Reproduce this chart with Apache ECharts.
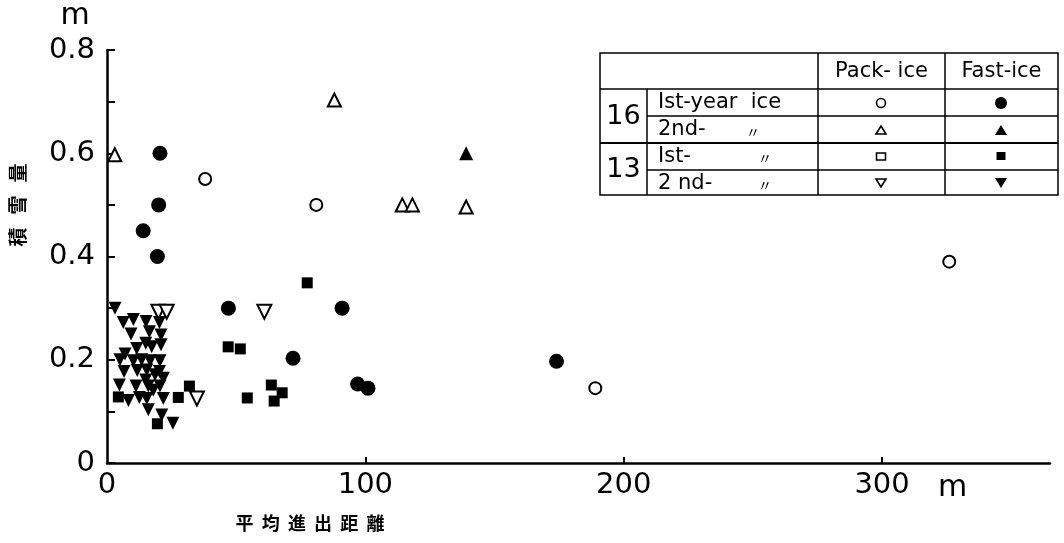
<!DOCTYPE html>
<html>
<head>
<meta charset="utf-8">
<script src="https://cdn.jsdelivr.net/npm/echarts@6/dist/echarts.min.js"></script>
<style>
  html, body { margin: 0; padding: 0; background: #fff; }
  #chart { width: 1064px; height: 543px; }
</style>
</head>
<body>
<div id="chart"></div>
<script>
// ticks
const xTicks = [0, 100, 200, 300]
const yTicks = [0, 0.2, 0.4, 0.6, 0.8]

// 16: 1st-year ice
const packFirst16 = [[38, 0.55], [81, 0.50], [189, 0.145], [326, 0.39]]
const fastFirst16 = [[20.5, 0.60], [20, 0.50], [14, 0.45], [19.5, 0.40], [47, 0.30], [91, 0.30],
  [72, 0.203], [97, 0.153], [101, 0.145], [174, 0.197]]
// 16: 2nd-year ice
const packSecond16 = [[3, 0.597], [88, 0.703], [114.3, 0.50], [118.2, 0.50], [139, 0.496]]
const fastSecond16 = [[139, 0.60]]
// 13: 1st-year ice
const packFirst13 = []
const fastFirst13 = [[4.4, 0.128], [27.6, 0.127], [31.9, 0.149], [19.5, 0.076], [77.5, 0.349],
  [46.9, 0.225], [51.6, 0.221], [54.3, 0.126], [63.6, 0.151], [64.7, 0.12], [67.8, 0.136]]
// 13: 2nd-year ice
const packSecond13 = [[19.9, 0.293], [23.1, 0.293], [34.8, 0.125], [60.9, 0.293]]
const fastSecond13 = [[3.1, 0.30], [6.3, 0.272], [10.2, 0.278], [15.1, 0.274], [20.3, 0.272],
  [9.3, 0.25], [16.4, 0.254], [20.9, 0.248], [11.5, 0.222], [15, 0.232], [17.3, 0.225], [20.9, 0.229],
  [7, 0.211], [5, 0.20], [10.2, 0.198], [13.4, 0.20], [16.7, 0.198], [20.5, 0.198],
  [6.6, 0.177], [11.7, 0.179], [15.4, 0.18], [20.3, 0.177], [15, 0.161], [18.6, 0.171], [21.8, 0.164],
  [4.8, 0.151], [11.2, 0.149], [16, 0.149], [17.9, 0.141], [20.5, 0.149],
  [8.3, 0.121], [12.5, 0.127], [15.4, 0.125], [21.8, 0.125], [16, 0.103], [21.2, 0.093], [25.5, 0.077]]

const downTri = 'path://M0,0 L10,0 L5,8.66 Z'
const font = 'DejaVu Sans'
const cjk = 'Noto Sans CJK JP'

function open(name, data, symbol, size) {
  return {
    name: name, type: 'scatter', data: data, symbol: symbol, symbolSize: size,
    itemStyle: { color: '#fff', borderColor: '#000', borderWidth: 2, opacity: 1 },
    emphasis: { disabled: true }, z: 3
  }
}
function filled(name, data, symbol, size) {
  return {
    name: name, type: 'scatter', data: data, symbol: symbol, symbolSize: size,
    itemStyle: { color: '#000', opacity: 1 },
    emphasis: { disabled: true }, z: 4
  }
}

// legend table, drawn as lines and text
const L = 600, R = 1058, T = 53, B = 195
const c1 = 647, c2 = 818, c3 = 945
const r1 = 89, r2 = 116, r3 = 143, r4 = 170
const lineStyle = { stroke: '#000', lineWidth: 1.5 }
function ln(x1, y1, x2, y2, w) {
  return { type: 'line', shape: { x1: x1, y1: y1, x2: x2, y2: y2 },
    style: Object.assign({}, lineStyle, w ? { lineWidth: w } : {}) }
}
function txt(x, y, s, size, align, fam) {
  return { type: 'text', x: x, y: y,
    style: { text: s, fontSize: size, fontFamily: fam || font, fill: '#000', align: align || 'left', verticalAlign: 'middle' } }
}
const px = 881, fx = 1001
const sym = [
  { type: 'circle', shape: { cx: px, cy: 103, r: 4.5 }, style: { fill: '#fff', stroke: '#000', lineWidth: 1.6 } },
  { type: 'circle', shape: { cx: fx, cy: 103, r: 6 }, style: { fill: '#000' } },
  { type: 'polygon', shape: { points: [[px - 5, 134], [px + 5, 134], [px, 126]] }, style: { fill: '#fff', stroke: '#000', lineWidth: 1.6 } },
  { type: 'polygon', shape: { points: [[fx - 6, 135], [fx + 6, 135], [fx, 125]] }, style: { fill: '#000' } },
  { type: 'rect', shape: { x: px - 4.5, y: 153, width: 9, height: 7 }, style: { fill: '#fff', stroke: '#000', lineWidth: 1.6 } },
  { type: 'rect', shape: { x: fx - 4.5, y: 152, width: 9, height: 8 }, style: { fill: '#000' } },
  { type: 'polygon', shape: { points: [[px - 5, 179], [px + 5, 179], [px, 187]] }, style: { fill: '#fff', stroke: '#000', lineWidth: 1.6 } },
  { type: 'polygon', shape: { points: [[fx - 6, 178], [fx + 6, 178], [fx, 188]] }, style: { fill: '#000' } }
]

const graphic = [
  { type: 'rect', shape: { x: L, y: T, width: R - L, height: B - T }, style: { fill: '#fff', stroke: '#000', lineWidth: 1.5 }, z: 10 },
  ln(L, r1, R, r1), ln(c1, r2, R, r2), ln(L, r3, R, r3, 2), ln(c1, r4, R, r4),
  ln(c1, r1, c1, B), ln(c2, T, c2, B), ln(c3, T, c3, B),
  txt((c2 + c3) / 2, 72, 'Pack- ice', 21, 'center'),
  txt((c3 + R) / 2, 72, 'Fast-ice', 21, 'center'),
  txt((L + c1) / 2, 117, '16', 27, 'center'),
  txt((L + c1) / 2, 170, '13', 27, 'center'),
  txt(658, 103, 'Ist-year  ice', 21),
  txt(658, 130, '2nd-', 21), txt(746, 132, '〃', 14, 'left', cjk),
  txt(658, 157, 'Ist-', 21), txt(758, 158, '〃', 14, 'left', cjk),
  txt(658, 184, '2 nd-', 21), txt(758, 185, '〃', 14, 'left', cjk)
].concat(sym).map(function (g) { g.z = g.z || 11; return g })

graphic.push(
  txt(75, 16, 'm', 30, 'center'),
  txt(938, 488, 'm', 30, 'left'),
  { type: 'text', x: 18, y: 205, rotation: Math.PI / 2,
    style: { text: '積   雪   量', fontSize: 19, fontWeight: 'bold', fontFamily: cjk, fill: '#000', align: 'center', verticalAlign: 'middle' } },
  { type: 'text', x: 310, y: 523,
    style: { text: '平  均  進  出  距  離', fontSize: 18, fontWeight: 'bold', fontFamily: cjk, fill: '#000', align: 'center', verticalAlign: 'middle' } }
)

const chart = echarts.init(document.getElementById('chart'), null, { renderer: 'canvas' })
const option = {
  backgroundColor: '#fff',
  animation: false,
  grid: { left: 107, right: 14, top: 50, bottom: 80 },
  xAxis: {
    type: 'value', min: 0, max: 365,
    axisLine: { lineStyle: { color: '#000', width: 2.5 } },
    axisTick: { inside: true, length: 6, customValues: xTicks.slice(1), lineStyle: { color: '#000', width: 2 } },
    axisLabel: { customValues: xTicks, color: '#000', fontSize: 29, fontFamily: font, margin: 8 },
    splitLine: { show: false }
  },
  yAxis: {
    type: 'value', min: 0, max: 0.8, interval: 0.1,
    axisLine: { show: true, lineStyle: { color: '#000', width: 2.5 } },
    axisTick: { show: true, inside: true, length: 8, lineStyle: { color: '#000', width: 2 } },
    axisLabel: {
      customValues: yTicks, color: '#000', fontSize: 29, fontFamily: font, margin: 12,
      formatter: function (v) { return v === 0 ? '0' : v.toFixed(1) }
    },
    splitLine: { show: false }
  },
  series: [
    open('16 1st Pack-ice', packFirst16, 'circle', 12),
    filled('16 1st Fast-ice', fastFirst16, 'circle', 15),
    open('16 2nd Pack-ice', packSecond16, 'triangle', 13),
    filled('16 2nd Fast-ice', fastSecond16, 'triangle', 14),
    open('13 1st Pack-ice', packFirst13, 'rect', 10),
    filled('13 1st Fast-ice', fastFirst13, 'rect', 11),
    open('13 2nd Pack-ice', packSecond13, downTri, 14),
    filled('13 2nd Fast-ice', fastSecond13, downTri, 13)
  ],
  graphic: graphic
}
chart.setOption(option, true)
</script>
</body>
</html>
